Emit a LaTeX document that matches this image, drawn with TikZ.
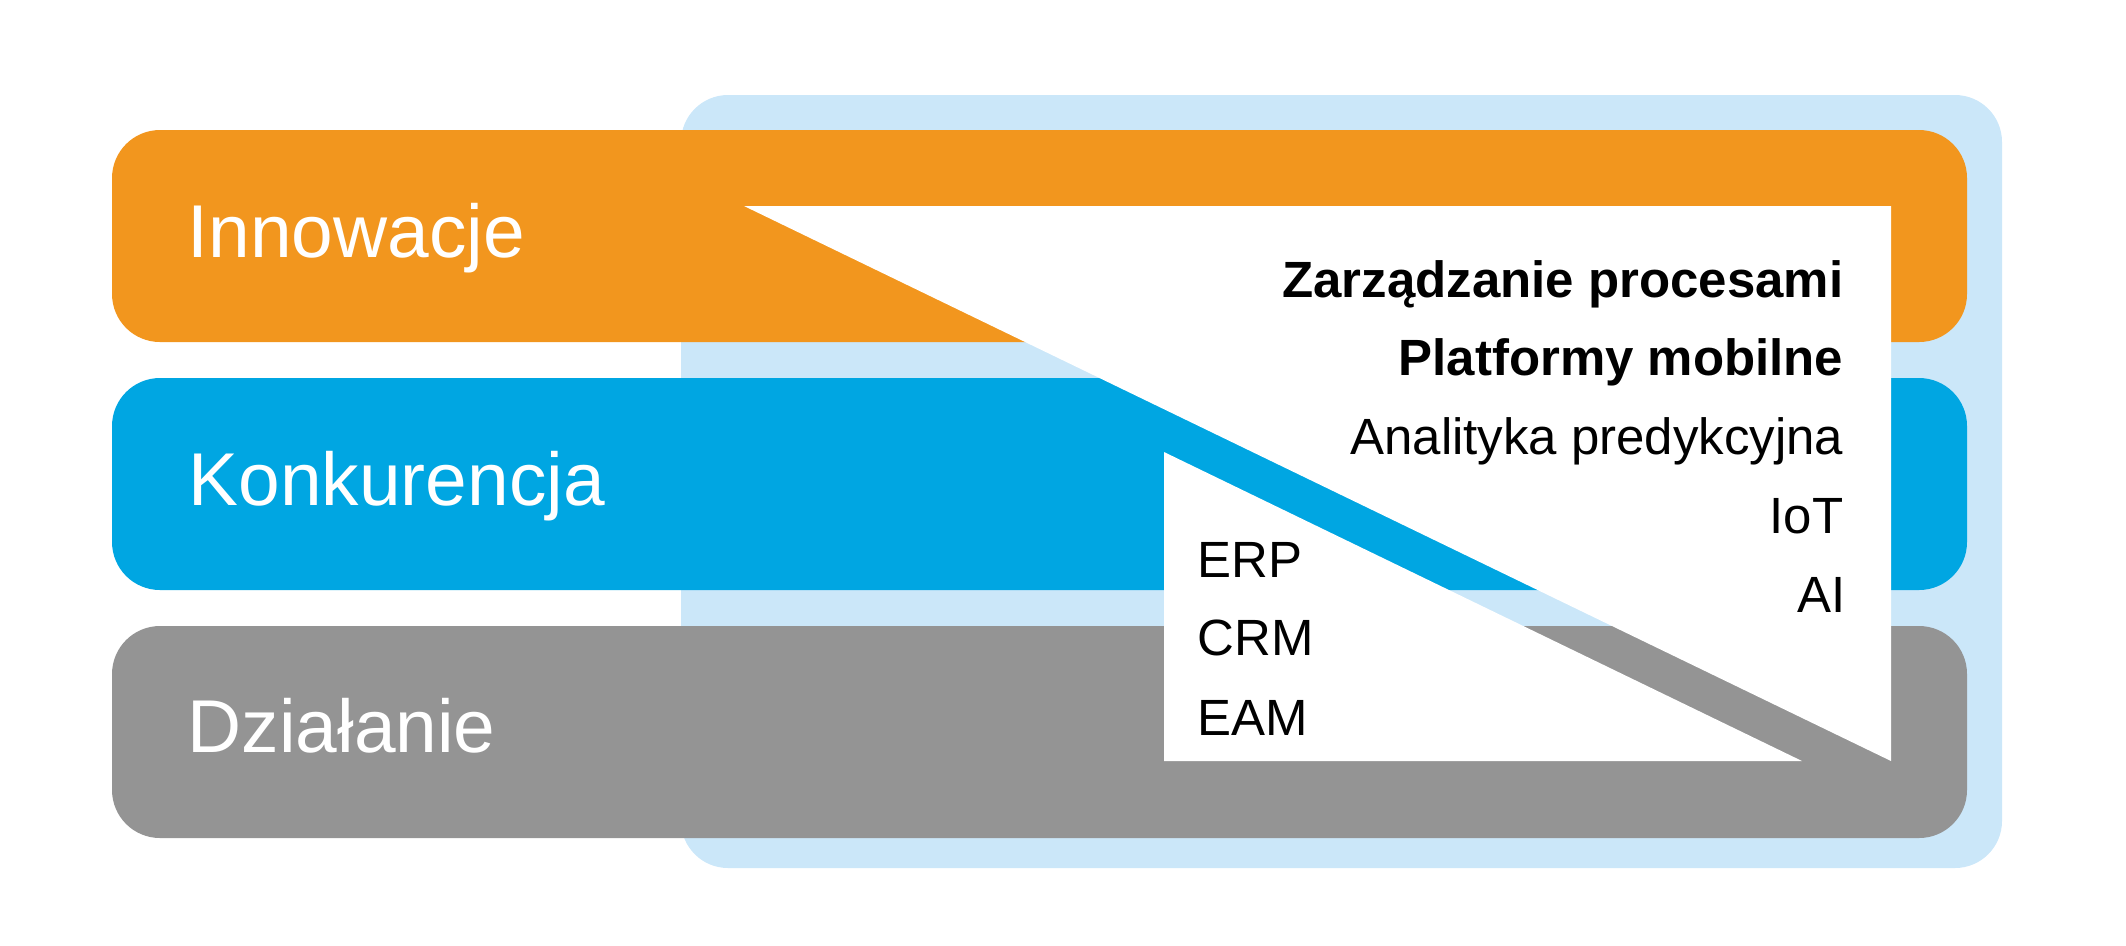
\documentclass[tikz,border=0pt]{standalone}
\usepackage{fontspec}
\setsansfont{Liberation Sans}
\usetikzlibrary{positioning}
\definecolor{innovorange}{RGB}{242,150,30}
\definecolor{konkblue}{RGB}{0,166,226}
\definecolor{dzialgray}{RGB}{148,148,148}
\definecolor{paleblue}{RGB}{203,231,249}
\begin{document}
\begin{tikzpicture}[x=0.1mm, y=-0.1mm, node distance=24.8mm,
  bar/.style={minimum width=185.5mm, minimum height=21.2mm, inner sep=0pt, rounded corners=4.8mm},
  bartext/.style={text=white, inner sep=0pt, anchor=base west, font=\sffamily\fontsize{21.3pt}{25pt}\selectfont},
  item/.style={inner sep=0pt, font=\sffamily\fontsize{14.5pt}{17pt}\selectfont}]
  \useasboundingbox (0,0) rectangle (2126,945);
  \node[fill=paleblue, minimum width=132.1mm, minimum height=77.3mm, inner sep=0pt, rounded corners=4.7mm] (back) at (1341.5,481.5) {};
  \node[bar, fill=innovorange] (innov) at (1039.5,236) {};
  \node[bar, fill=konkblue, below of=innov] (konk) {};
  \node[bar, fill=dzialgray, below of=konk] (dzial) {};
  % white wedges
  \fill[white] (744,206) -- (1891,206) -- (1891,761) -- cycle;
  \fill[white] (1164,452) -- (1802,761) -- (1164,761) -- cycle;
  % bar labels
  \node[bartext] (innovtxt) at (187,257) {Innowacje};
  \node[bartext] (konktxt) at (188,505) {Konkurencja};
  \node[bartext] (dzialtxt) at (187,752) {Działanie};
  % new items
  \node[item, anchor=base east, font=\sffamily\bfseries\fontsize{14.5pt}{17pt}\selectfont] (bpm) at (1844,297) {Zarządzanie procesami};
  \node[item, anchor=base east, font=\sffamily\bfseries\fontsize{14.5pt}{17pt}\selectfont] (mobile) at (1844,375) {Platformy mobilne};
  \node[item, anchor=base east] (analytics) at (1844,454) {Analityka predykcyjna};
  \node[item, anchor=base east] (iot) at (1844,533) {IoT};
  \node[item, anchor=base east] (ai) at (1846,612) {AI};
  % classic systems
  \node[item, anchor=base west] (erp) at (1197,577) {ERP};
  \node[item, anchor=base west] (crm) at (1197,655) {CRM};
  \node[item, anchor=base west] (eam) at (1197,735) {EAM};
\end{tikzpicture}
\end{document}
